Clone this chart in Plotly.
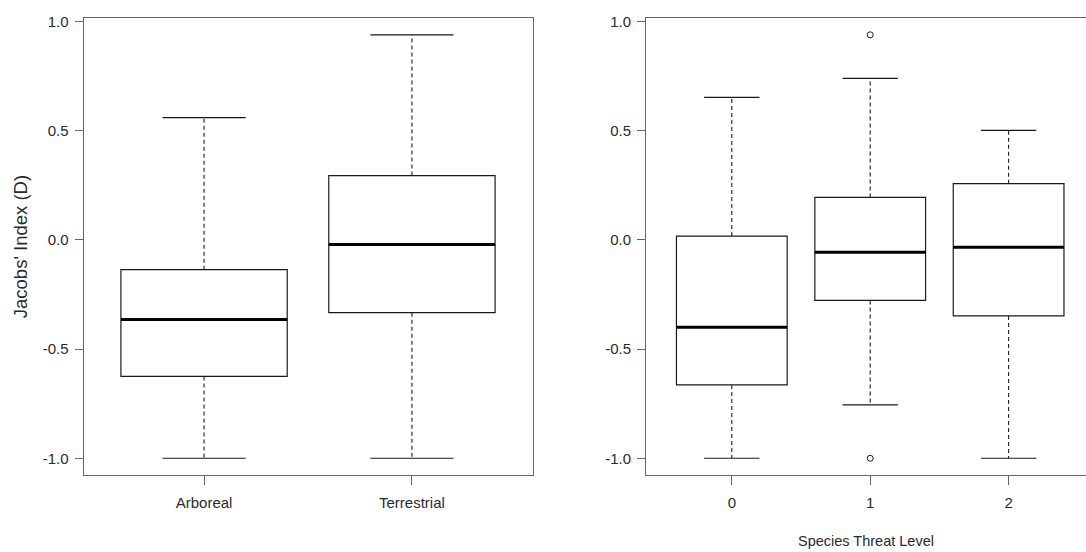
import plotly.graph_objects as go

# Jacobs' index by habitat stratum
habitat_labels = ["Arboreal", "Terrestrial"]
habitat_lower = [-1.0, -1.0]
habitat_q1 = [-0.625, -0.333]
habitat_median = [-0.364, -0.021]
habitat_q3 = [-0.136, 0.295]
habitat_upper = [0.561, 0.94]

# Jacobs' index by species threat level
threat_labels = ["0", "1", "2"]
threat_lower = [-1.0, -0.755, -1.0]
threat_q1 = [-0.664, -0.277, -0.348]
threat_median = [-0.40, -0.056, -0.033]
threat_q3 = [0.018, 0.195, 0.258]
threat_upper = [0.653, 0.74, 0.502]
threat_outliers = [[], [0.94, -1.0], []]

y_tick_values = [-1.0, -0.5, 0.0, 0.5, 1.0]
y_tick_text = ["-1.0", "-0.5", "0.0", "0.5", "1.0"]

FONT = "Liberation Sans, Arial, sans-serif"
INK = "#1a1a1a"
TEXT = "#2a2a2a"
FRAME = "#666666"
BOX_WIDTH = 0.8
CAP_WIDTH = 0.4

fig = go.Figure()


def add_boxes(labels, lower, q1, med, q3, upper, outliers, xa, ya):
    for i, _ in enumerate(labels):
        pos = i + 1
        # box body (fences at the hinges; whiskers drawn dashed below)
        fig.add_trace(go.Box(
            x=[pos], q1=[q1[i]], median=[med[i]], q3=[q3[i]],
            lowerfence=[q1[i]], upperfence=[q3[i]],
            width=BOX_WIDTH, whiskerwidth=0,
            fillcolor="rgba(0,0,0,0)",
            line=dict(color=INK, width=1.2),
            boxpoints=False, showlegend=False, hoverinfo="skip",
            xaxis=xa, yaxis=ya,
        ))
        # thick median bar
        fig.add_trace(go.Scatter(
            x=[pos - BOX_WIDTH / 2, pos + BOX_WIDTH / 2], y=[med[i], med[i]],
            mode="lines", line=dict(color="#000000", width=3),
            showlegend=False, hoverinfo="skip", xaxis=xa, yaxis=ya,
        ))
        # dashed whiskers
        for a, b in ((q3[i], upper[i]), (q1[i], lower[i])):
            fig.add_trace(go.Scatter(
                x=[pos, pos], y=[a, b], mode="lines",
                line=dict(color=INK, width=1.1, dash="4px,3px"),
                showlegend=False, hoverinfo="skip", xaxis=xa, yaxis=ya,
            ))
        # whisker staples
        for v in (upper[i], lower[i]):
            fig.add_trace(go.Scatter(
                x=[pos - CAP_WIDTH / 2, pos + CAP_WIDTH / 2], y=[v, v],
                mode="lines", line=dict(color=INK, width=1.2),
                showlegend=False, hoverinfo="skip", xaxis=xa, yaxis=ya,
            ))
        if outliers[i]:
            fig.add_trace(go.Scatter(
                x=[pos] * len(outliers[i]), y=outliers[i], mode="markers",
                marker=dict(symbol="circle-open", size=6, color=INK,
                            line=dict(width=1, color=INK)),
                showlegend=False, hoverinfo="skip", xaxis=xa, yaxis=ya,
            ))


add_boxes(habitat_labels, habitat_lower, habitat_q1, habitat_median,
          habitat_q3, habitat_upper, [[] for _ in habitat_labels], "x", "y")
add_boxes(threat_labels, threat_lower, threat_q1, threat_median,
          threat_q3, threat_upper, threat_outliers, "x2", "y2")

W, H = 1086, 552
y_dom = [(H - 474.5) / H, (H - 13) / H]
y_range = [-1.0776, 1.0176]

tick_font = dict(family=FONT, size=15, color=TEXT)
common_y = dict(
    range=y_range, domain=y_dom, tickvals=y_tick_values, ticktext=y_tick_text,
    ticks="outside", ticklen=8, tickcolor=FRAME, tickwidth=1,
    showline=True, linecolor=FRAME, linewidth=1, showgrid=False,
    zeroline=False, tickfont=tick_font, ticklabelstandoff=3,
)
common_x = dict(
    ticks="outside", ticklen=9, tickcolor=FRAME, tickwidth=1,
    showline=True, linecolor=FRAME, linewidth=1, showgrid=False,
    zeroline=False, tickfont=tick_font, ticklabelstandoff=5,
)

fig.update_layout(
    width=W, height=H,
    margin=dict(l=0, r=0, t=0, b=0),
    paper_bgcolor="white", plot_bgcolor="white",
    font=dict(family=FONT, color=TEXT),
    xaxis=dict(
        common_x, domain=[83.5 / W, 532.5 / W], range=[0.42, 2.58],
        tickvals=[1, 2], ticktext=habitat_labels, mirror=True, anchor="y",
    ),
    yaxis=dict(
        common_y, anchor="x", mirror=True,
        title=dict(text="Jacobs' Index (D)", standoff=10,
                   font=dict(family=FONT, size=18.5, color=TEXT)),
    ),
    xaxis2=dict(
        common_x, domain=[646 / W, 1.0], range=[0.38, 0.38 + 440 / 138.4],
        tickvals=[1, 2, 3], ticktext=threat_labels, mirror=True, anchor="y2",
        title=dict(text="Species Threat Level", standoff=25,
                   font=dict(family=FONT, size=14.5, color=TEXT)),
    ),
    yaxis2=dict(common_y, anchor="x2"),
)

fig.write_html("out.html")
